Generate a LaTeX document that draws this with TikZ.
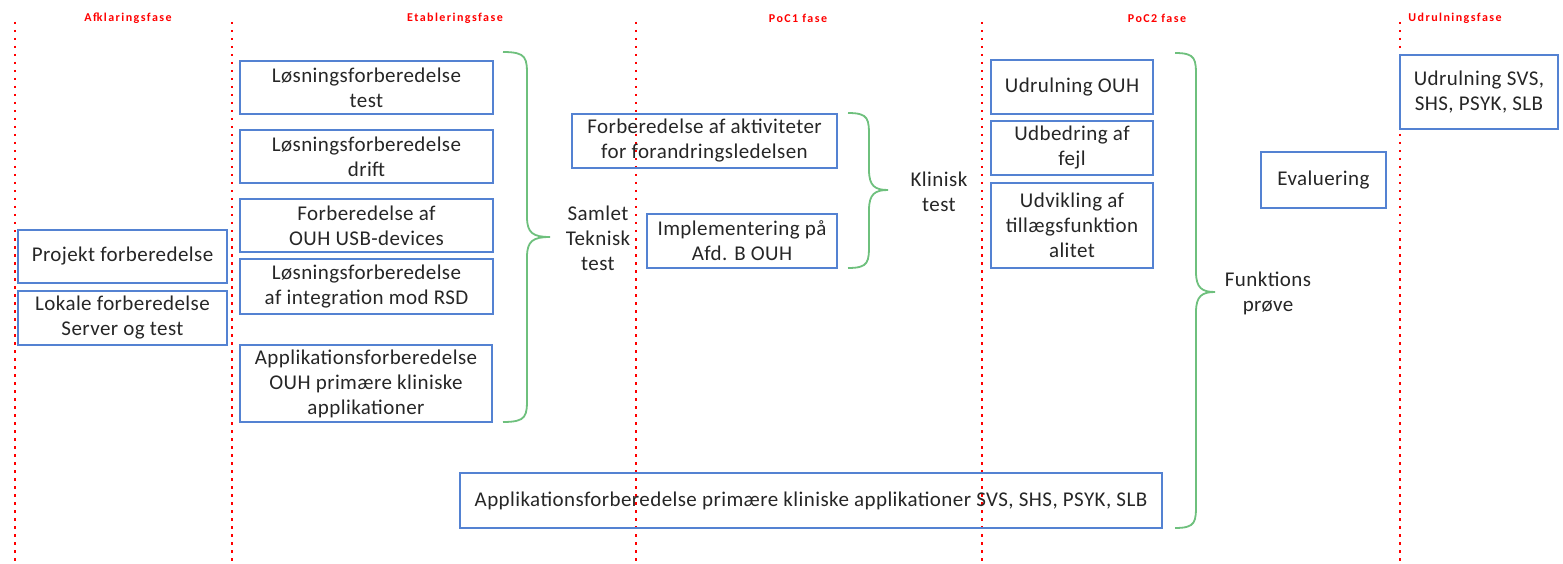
\documentclass[tikz,border=0pt]{standalone}
\usepackage{fontspec}
\setmainfont[LetterSpace=2]{Carlito}
\newfontfamily\phasefont[LetterSpace=12]{Carlito}
\definecolor{boxblue}{RGB}{84,130,210}
\definecolor{brgreen}{RGB}{110,192,125}
\tikzset{
  box/.style={draw=boxblue, line width=1.4pt, inner sep=0pt, align=center,
    font=\fontsize{21}{25}\selectfont, text=black!85},
  phase/.style={text=red, font=\phasefont\bfseries\fontsize{12}{13}\selectfont},
  phaseline/.style={red, line width=2pt, dash pattern=on 2.5pt off 5.5pt},
  brc/.style={brgreen, line width=1.8pt},
  lbl/.style={align=center, font=\fontsize{21}{25}\selectfont, text=black!85}
}
% brace: x0 (open end), x1 (spine), xt (tip), ytop, ymid, ybot
\newcommand{\mybrace}[6]{%
  \draw[brc] (#1,#4) .. controls (#2,#4) and (#2,#4+6) .. (#2,#4+25)
    -- (#2,#5-20) .. controls (#2,#5-4) and (#2+6,#5) .. (#3,#5)
    .. controls (#2+6,#5) and (#2,#5+4) .. (#2,#5+20)
    -- (#2,#6-25) .. controls (#2,#6-6) and (#2,#6) .. (#1,#6);}
\begin{document}
\begin{tikzpicture}[x=1pt,y=-1pt]
\useasboundingbox (0,0) rectangle (1563,564);
% phase lines
\foreach \x/\n in {15/l1,232/l2,636/l3,982/l4,1400/l5} {
  \coordinate (\n t) at (\x,22);
  \coordinate (\n b) at (\x,564);
  \draw[phaseline] (\n t) -- (\n b);
}
\node[phase] (p1) at (128,18) {Afklaringsfase};
\node[phase] (p2) at (455,18) {Etableringsfase};
\node[phase] (p3) at (798,18) {PoC1 fase};
\node[phase] (p4) at (1157,18) {PoC2 fase};
\node[phase] (p5) at (1455,18) {Udrulningsfase};

% boxes
\node[box, minimum width=209pt, minimum height=53pt] (a1) at (122.5,256.5) {Projekt forberedelse};
\node[box, minimum width=209pt, minimum height=54pt] (a2) at (122.5,318) {Lokale forberedelse\\Server og test};

\node[box, minimum width=253pt, minimum height=53pt] (e1) at (366.5,87.5) {Løsningsforberedelse\\test};
\node[box, minimum width=253pt, minimum height=53pt] (e2) at (366.5,156.5) {Løsningsforberedelse\\drift};
\node[box, minimum width=253pt, minimum height=53pt] (e3) at (366.5,225.5) {Forberedelse af\\OUH USB-devices};
\node[box, minimum width=253pt, minimum height=55pt] (e4) at (366.5,286.5) {Løsningsforberedelse\\af integration mod RSD};
\node[box, minimum width=252pt, minimum height=77pt] (e5) at (366,383.5) {Applikationsforberedelse\\OUH primære kliniske\\applikationer};

\node[box, minimum width=265pt, minimum height=54pt] (c1) at (704.5,141) {Forberedelse af aktiviteter\\for forandringsledelsen};
\node[box, minimum width=190pt, minimum height=54pt] (c2) at (742,241) {Implementering på\\Afd. B OUH};

\node[box, minimum width=162pt, minimum height=54pt] (d1) at (1072,87) {Udrulning OUH};
\node[box, minimum width=162pt, minimum height=54pt] (d2) at (1072,148) {Udbedring af\\fejl};
\node[box, minimum width=162pt, minimum height=85pt] (d3) at (1072,225.5) {Udvikling af\\tillægsfunktion\\alitet};

\node[box, minimum width=125pt, minimum height=56pt] (ev) at (1323.5,180) {Evaluering};
\node[box, minimum width=158pt, minimum height=74pt] (u1) at (1479,92) {Udrulning SVS,\\SHS, PSYK, SLB};

\node[box, minimum width=702pt, minimum height=55pt] (ap) at (811,500.5) {Applikationsforberedelse primære kliniske applikationer SVS, SHS, PSYK, SLB};

% braces
\mybrace{503}{527}{550}{52}{237}{422}
\mybrace{848}{869}{888}{113}{190}{268}
\mybrace{1175}{1196}{1215}{53}{292}{528}

\node[lbl] (t1) at (598,238) {Samlet\\Teknisk\\test};
\node[lbl] (t2) at (939,192) {Klinisk\\test};
\node[lbl] (t3) at (1268,293) {Funktions\\prøve};
\end{tikzpicture}
\end{document}
